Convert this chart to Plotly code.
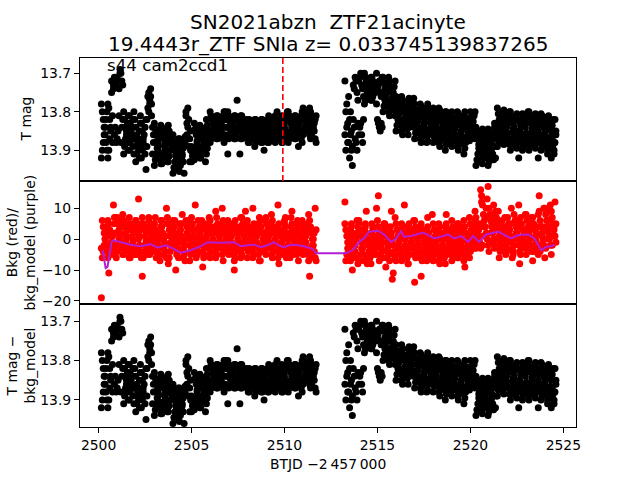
import plotly.graph_objects as go
from plotly.subplots import make_subplots

# ---------------- data ----------------
# two flux samples are listed per time stamp (series "a" and "b")
time_o1 = [
 2500.15,2500.20,2500.25,2500.30,2500.35,2500.40,2500.45,2500.50,2500.55,2500.60,2500.65,2500.70,2500.75,2500.80,2500.85,2500.90,2500.95,
 2501.00,2501.05,2501.10,2501.15,2501.20,2501.25,2501.30,2501.35,2501.40,2501.45,2501.50,2501.55,2501.60,2501.65,2501.70,2501.75,2501.80,2501.85,2501.90,2501.95,
 2502.00,2502.05,2502.10,2502.15,2502.20,2502.25,2502.30,2502.35,2502.40,2502.45,2502.50,2502.55,2502.60,2502.65,2502.70,2502.75,2502.80,2502.85,2502.90,2502.95,
 2503.00,2503.05,2503.10,2503.15,2503.20,2503.25,2503.30,2503.35,2503.40,2503.45,2503.50,2503.55,2503.60,2503.65,2503.70,2503.75,2503.80,2503.85,2503.90,2503.95,
 2504.00,2504.05,2504.10,2504.15,2504.20,2504.25,2504.30,2504.35,2504.40,2504.45,2504.50,2504.55,2504.60,2504.65,2504.70,2504.75,2504.80,2504.85,2504.90,2504.95,
 2505.00,2505.05,2505.10,2505.15,2505.20,2505.25,2505.30,2505.35,2505.40,2505.45,2505.50,2505.55,2505.60,2505.65,2505.70,2505.75,2505.80,2505.85,2505.90,2505.95,
 2506.00,2506.05,2506.10,2506.15,2506.20,2506.25,2506.30,2506.35,2506.40,2506.45,2506.50,2506.55,2506.60,2506.65,2506.70,2506.75,2506.80,2506.85,2506.90,2506.95,
 2507.00,2507.05,2507.10,2507.15,2507.20,2507.25,2507.30,2507.35,2507.40,2507.45,2507.50,2507.55,2507.60,2507.65,2507.70,2507.75,2507.80,2507.85,2507.90,2507.95,
 2508.00,2508.05,2508.10,2508.15,2508.20,2508.25,2508.30,2508.35,2508.40,2508.45,2508.50,2508.55,2508.60,2508.65,2508.70,2508.75,2508.80,2508.85,2508.90,2508.95,
 2509.00,2509.05,2509.10,2509.15,2509.20,2509.25,2509.30,2509.35,2509.40,2509.45,2509.50,2509.55,2509.60,2509.65,2509.70,2509.75,2509.80,2509.85,2509.90,2509.95,
 2510.00,2510.05,2510.10,2510.15,2510.20,2510.25,2510.30,2510.35,2510.40,2510.45,2510.50,2510.55,2510.60,2510.65,2510.70,2510.75,2510.80,2510.85,2510.90,2510.95,
 2511.00,2511.05,2511.10,2511.15,2511.20,2511.25,2511.30,2511.35,2511.40,2511.45,2511.50,2511.55,2511.60,2511.65,2511.70,
]
mag_o1_a = [
 13.78,13.80,13.82,13.84,13.86,13.88,13.90,13.92,13.79,13.82,13.85,13.72,13.88,13.74,13.71,13.84,13.73,
 13.87,13.72,13.81,13.69,13.70,13.84,13.73,13.80,13.82,13.84,13.86,13.88,13.90,13.81,13.83,13.85,13.87,13.89,13.91,13.82,
 13.84,13.86,13.88,13.90,13.92,13.81,13.83,13.85,13.87,13.89,13.91,13.95,13.82,13.79,13.75,13.77,13.74,13.78,13.84,13.88,
 13.83,13.845,13.86,13.875,13.89,13.905,13.92,13.935,13.84,13.855,13.87,13.885,13.90,13.915,13.93,13.835,13.85,13.865,13.88,13.895,
 13.86,13.875,13.89,13.905,13.92,13.935,13.95,13.87,13.885,13.90,13.915,13.93,13.96,13.88,13.80,13.83,13.79,13.82,13.87,13.85,
 13.89,13.905,13.92,13.83,13.845,13.86,13.875,13.89,13.905,13.92,13.84,13.855,13.87,13.885,13.90,13.93,13.82,13.835,13.85,13.865,
 13.80,13.81,13.82,13.83,13.84,13.85,13.86,13.87,13.81,13.82,13.83,13.84,13.85,13.86,13.87,13.88,13.80,13.82,13.84,13.91,
 13.81,13.82,13.83,13.84,13.85,13.86,13.87,13.81,13.82,13.77,13.84,13.85,13.91,13.87,13.81,13.82,13.83,13.84,13.85,13.86,
 13.87,13.88,13.82,13.83,13.84,13.85,13.86,13.87,13.89,13.82,13.83,13.84,13.85,13.86,13.87,13.88,13.82,13.83,13.90,13.85,
 13.86,13.87,13.88,13.81,13.82,13.83,13.84,13.85,13.86,13.87,13.81,13.82,13.80,13.84,13.85,13.86,13.87,13.88,13.82,13.83,
 13.84,13.85,13.86,13.87,13.80,13.81,13.82,13.83,13.84,13.85,13.86,13.87,13.81,13.82,13.83,13.89,13.85,13.86,13.87,13.88,
 13.79,13.80,13.81,13.82,13.83,13.84,13.85,13.86,13.80,13.81,13.82,13.83,13.85,13.87,13.88,
]
mag_o1_b = [
 13.92,13.90,13.88,13.86,13.84,13.82,13.80,13.78,13.90,13.87,13.84,13.75,13.81,13.73,13.86,13.72,13.88,
 13.71,13.85,13.74,13.70,13.88,13.72,13.82,13.91,13.89,13.87,13.85,13.83,13.81,13.90,13.88,13.86,13.84,13.82,13.80,13.87,
 13.93,13.91,13.89,13.87,13.85,13.83,13.92,13.90,13.88,13.86,13.84,13.82,13.89,13.76,13.80,13.78,13.76,13.81,13.91,13.86,
 13.94,13.925,13.91,13.895,13.88,13.865,13.85,13.835,13.935,13.92,13.905,13.89,13.875,13.86,13.845,13.93,13.915,13.90,13.885,13.87,
 13.96,13.945,13.93,13.915,13.90,13.885,13.87,13.955,13.94,13.925,13.91,13.895,13.88,13.865,13.81,13.86,13.84,13.89,13.93,13.90,
 13.93,13.915,13.90,13.925,13.91,13.895,13.88,13.865,13.85,13.835,13.92,13.905,13.89,13.875,13.86,13.845,13.91,13.895,13.88,13.865,
 13.88,13.87,13.86,13.85,13.84,13.83,13.82,13.81,13.87,13.86,13.85,13.84,13.83,13.82,13.81,13.80,13.86,13.84,13.82,13.80,
 13.87,13.86,13.85,13.84,13.83,13.82,13.81,13.87,13.86,13.85,13.84,13.83,13.82,13.81,13.87,13.86,13.85,13.84,13.83,13.82,
 13.85,13.84,13.88,13.87,13.86,13.85,13.84,13.83,13.82,13.88,13.87,13.86,13.85,13.84,13.83,13.82,13.88,13.87,13.86,13.84,
 13.85,13.83,13.82,13.88,13.87,13.86,13.85,13.84,13.83,13.82,13.88,13.87,13.86,13.85,13.84,13.83,13.82,13.81,13.88,13.86,
 13.83,13.82,13.81,13.80,13.88,13.87,13.86,13.85,13.84,13.83,13.82,13.81,13.87,13.86,13.85,13.84,13.83,13.82,13.81,13.80,
 13.86,13.85,13.84,13.83,13.82,13.81,13.80,13.79,13.87,13.86,13.85,13.84,13.83,13.82,13.81,
]
bkg_o1_a = [
 -19,-6,-4,-2,0,2,4,6,-11,-5,-3,-1,1,11,5,7,-6,
 -4,-2,0,2,4,6,8,-5,-3,-1,1,3,5,7,-6,-4,-2,0,2,4,
 6,-5,-3,13,1,3,5,-12,-6,-4,-2,0,2,4,7,-5,-3,-1,1,3,
 5,7,-6,-4,-2,0,2,4,6,-5,-3,-1,1,10,5,-8,-6,-4,-2,0,
 2,4,6,-10,-5,-3,-1,1,3,5,8,-6,-4,-2,0,2,4,6,-7,-5,
 -3,-1,1,3,11,-6,-4,-2,0,2,4,6,-9,-5,-3,-1,1,3,5,7,
 -6,-4,-2,0,2,4,9,-5,-3,-1,1,3,5,10,-7,-4,-2,0,2,6,
 -5,-3,-1,1,3,5,-10,-6,-4,-2,0,2,4,7,-5,-3,-1,1,9,5,
 -6,-4,-2,0,2,4,10,-5,-3,-1,1,3,5,7,-7,-4,-2,0,2,6,
 -5,-3,-1,1,3,5,8,-6,-4,-2,0,2,4,11,-8,-5,-3,-1,1,3,
 5,7,-6,-4,-2,0,2,4,9,-5,-3,-1,1,3,5,-7,-4,-2,0,6,
 -5,-3,-1,1,3,5,8,-12,-6,-4,-2,0,2,10,-7,
]
bkg_o1_b = [
 -3,6,4,2,0,-2,-4,-6,5,3,1,-1,-3,-5,7,2,-2,
 7,5,3,1,-1,-3,-5,6,4,2,0,-2,-4,-6,5,3,1,-1,-3,-5,
 6,4,2,0,-2,-4,-6,7,5,3,1,-1,-3,-5,6,4,2,0,-2,-4,
 5,3,1,-1,-3,-5,-7,6,4,2,0,-2,-4,-6,7,5,3,1,-1,-3,
 6,4,2,0,-2,-4,-6,5,3,1,-1,-3,-5,-7,6,4,2,0,-2,-4,
 7,5,3,1,-1,-3,-5,6,4,2,0,-2,-4,-6,5,3,1,-1,-3,-5,
 6,4,2,0,-2,-4,-6,7,5,3,1,-1,-3,-5,6,4,2,0,-2,-4,
 5,3,1,-1,-3,-5,-7,6,4,2,0,-2,-4,-6,7,5,3,1,-1,-3,
 6,4,2,0,-2,-4,-6,5,3,1,-1,-3,-5,-7,6,4,2,0,-2,-4,
 7,5,3,1,-1,-3,-5,6,4,2,0,-2,-4,-6,5,3,1,-1,-3,-5,
 6,4,2,0,-2,-4,-6,7,5,3,1,-1,-3,-5,6,4,2,0,-2,-4,
 5,3,1,-1,-3,-5,-7,6,4,2,0,-2,-4,-6,3,
]

time_o2 = [
 2513.25,2513.30,2513.35,2513.40,2513.45,2513.50,2513.55,2513.60,2513.65,2513.70,2513.75,2513.80,2513.85,2513.90,2513.95,
 2514.00,2514.05,2514.10,2514.15,2514.20,2514.25,2514.30,2514.35,2514.40,2514.45,2514.50,2514.55,2514.60,2514.65,2514.70,2514.75,2514.80,2514.85,2514.90,2514.95,
 2515.00,2515.05,2515.10,2515.15,2515.20,2515.25,2515.30,2515.35,2515.40,2515.45,2515.50,2515.55,2515.60,2515.65,2515.70,2515.75,2515.80,2515.85,2515.90,2515.95,
 2516.00,2516.05,2516.10,2516.15,2516.20,2516.25,2516.30,2516.35,2516.40,2516.45,2516.50,2516.55,2516.60,2516.65,2516.70,2516.75,2516.80,2516.85,2516.90,2516.95,
 2517.00,2517.05,2517.10,2517.15,2517.20,2517.25,2517.30,2517.35,2517.40,2517.45,2517.50,2517.55,2517.60,2517.65,2517.70,2517.75,2517.80,2517.85,2517.90,2517.95,
 2518.00,2518.05,2518.10,2518.15,2518.20,2518.25,2518.30,2518.35,2518.40,2518.45,2518.50,2518.55,2518.60,2518.65,2518.70,2518.75,2518.80,2518.85,2518.90,2518.95,
 2519.00,2519.05,2519.10,2519.15,2519.20,2519.25,2519.30,2519.35,2519.40,2519.45,2519.50,2519.55,2519.60,2519.65,2519.70,2519.75,2519.80,2519.85,2519.90,2519.95,
 2520.00,2520.05,2520.10,2520.15,2520.20,2520.25,2520.30,2520.35,2520.40,2520.45,2520.50,2520.55,2520.60,2520.65,2520.70,2520.75,2520.80,2520.85,2520.90,2520.95,
 2521.00,2521.05,2521.10,2521.15,2521.20,2521.25,2521.30,2521.35,2521.40,2521.45,2521.50,2521.55,2521.60,2521.65,2521.70,2521.75,2521.80,2521.85,2521.90,2521.95,
 2522.00,2522.05,2522.10,2522.15,2522.20,2522.25,2522.30,2522.35,2522.40,2522.45,2522.50,2522.55,2522.60,2522.65,2522.70,2522.75,2522.80,2522.85,2522.90,2522.95,
 2523.00,2523.05,2523.10,2523.15,2523.20,2523.25,2523.30,2523.35,2523.40,2523.45,2523.50,2523.55,2523.60,2523.65,2523.70,2523.75,2523.80,2523.85,2523.90,2523.95,
 2524.00,2524.05,2524.10,2524.15,2524.20,2524.25,2524.30,2524.35,2524.40,2524.45,2524.50,2524.55,2524.60,
]
mag_o2_a = [
 13.72,13.80,13.84,13.88,13.76,13.82,13.86,13.90,13.94,13.73,13.84,13.71,13.88,13.75,13.83,
 13.72,13.84,13.70,13.86,13.74,13.82,13.70,13.71,13.72,13.73,13.74,13.75,13.76,13.77,13.71,13.72,13.73,13.74,13.75,13.78,
 13.74,13.83,13.72,13.85,13.76,13.84,13.71,13.725,13.74,13.755,13.77,13.785,13.80,13.72,13.735,13.75,13.765,13.78,13.795,13.81,
 13.76,13.775,13.79,13.805,13.82,13.835,13.85,13.77,13.785,13.80,13.815,13.83,13.845,13.86,13.765,13.78,13.795,13.81,13.825,13.84,
 13.78,13.795,13.81,13.825,13.84,13.855,13.87,13.785,13.80,13.815,13.83,13.845,13.86,13.88,13.78,13.795,13.81,13.825,13.84,13.855,
 13.79,13.805,13.82,13.835,13.85,13.865,13.88,13.795,13.81,13.825,13.84,13.855,13.87,13.90,13.80,13.815,13.83,13.845,13.86,13.875,
 13.80,13.815,13.83,13.845,13.86,13.875,13.89,13.805,13.82,13.835,13.85,13.865,13.88,13.91,13.80,13.815,13.83,13.845,13.86,13.875,
 13.80,13.815,13.83,13.845,13.86,13.87,13.84,13.855,13.87,13.885,13.90,13.915,13.93,13.845,13.86,13.875,13.89,13.905,13.92,13.94,
 13.85,13.865,13.88,13.895,13.91,13.925,13.83,13.845,13.86,13.79,13.805,13.82,13.835,13.85,13.865,13.88,13.795,13.81,13.825,13.84,
 13.855,13.87,13.885,13.80,13.815,13.83,13.845,13.86,13.875,13.89,13.805,13.82,13.92,13.85,13.865,13.88,13.90,13.81,13.825,13.84,
 13.855,13.87,13.885,13.80,13.815,13.83,13.845,13.86,13.875,13.89,13.805,13.82,13.835,13.92,13.865,13.88,13.90,13.81,13.825,13.84,
 13.855,13.87,13.885,13.90,13.81,13.825,13.84,13.92,13.87,13.885,13.91,13.82,13.85,
]
mag_o2_b = [
 13.86,13.90,13.78,13.83,13.88,13.92,13.80,13.85,13.89,13.82,13.74,13.87,13.72,13.90,13.77,
 13.86,13.71,13.83,13.73,13.88,13.76,13.78,13.77,13.76,13.75,13.74,13.73,13.72,13.71,13.77,13.76,13.75,13.74,13.73,13.70,
 13.82,13.73,13.84,13.75,13.83,13.71,13.80,13.785,13.77,13.755,13.74,13.725,13.71,13.81,13.795,13.78,13.765,13.75,13.735,13.72,
 13.85,13.835,13.82,13.805,13.79,13.775,13.76,13.86,13.845,13.83,13.815,13.80,13.785,13.77,13.84,13.825,13.81,13.795,13.78,13.765,
 13.87,13.855,13.84,13.825,13.81,13.795,13.78,13.88,13.865,13.85,13.835,13.82,13.805,13.79,13.875,13.86,13.845,13.83,13.815,13.80,
 13.88,13.865,13.85,13.835,13.82,13.805,13.79,13.89,13.875,13.86,13.845,13.83,13.815,13.80,13.885,13.87,13.855,13.84,13.825,13.81,
 13.89,13.875,13.86,13.845,13.83,13.815,13.80,13.90,13.885,13.87,13.855,13.84,13.825,13.81,13.895,13.88,13.865,13.85,13.835,13.82,
 13.87,13.855,13.84,13.825,13.81,13.80,13.94,13.925,13.91,13.895,13.88,13.865,13.85,13.935,13.92,13.905,13.89,13.875,13.86,13.845,
 13.93,13.915,13.90,13.885,13.87,13.855,13.84,13.92,13.89,13.89,13.875,13.86,13.845,13.83,13.815,13.80,13.885,13.87,13.855,13.84,
 13.825,13.81,13.80,13.90,13.885,13.87,13.855,13.84,13.825,13.81,13.895,13.88,13.865,13.85,13.835,13.82,13.805,13.89,13.875,13.86,
 13.825,13.81,13.80,13.90,13.885,13.87,13.855,13.84,13.825,13.81,13.895,13.88,13.865,13.85,13.835,13.82,13.805,13.89,13.875,13.86,
 13.845,13.83,13.815,13.91,13.895,13.88,13.865,13.85,13.835,13.82,13.90,13.88,13.86,
]
bkg_o2_a = [
 12,-7,-5,-3,-1,1,3,5,-10,-6,-4,-2,0,2,4,
 6,-7,-5,-3,-1,1,3,5,9,-8,-6,-4,-2,0,2,4,-5,-3,-1,10,
 1,14,-7,-5,-3,-1,1,3,5,-9,-6,-4,-2,0,2,9,-13,-11,-5,7,
 -7,-5,-3,-1,1,3,5,-6,-4,11,0,2,4,-8,-5,-3,-1,1,3,6,
 -14,-6,-4,-2,0,2,4,-12,-7,-5,-3,-1,1,3,7,-6,-4,-2,0,8,
 -7,-5,-3,-1,1,3,5,-8,-6,-4,-2,0,2,4,8,-5,-3,-1,1,3,
 -7,-5,-3,-1,1,3,5,-6,-4,-2,0,2,4,6,-9,-5,-3,-1,1,7,
 -4,-2,0,2,4,6,-3,-1,1,3,5,16,12,-2,1,4,7,10,13,17,
 -4,-1,2,5,8,11,-3,0,3,6,9,-6,-4,-2,0,2,4,7,-5,-3,
 -1,1,3,5,10,-6,-4,-2,0,2,4,6,11,-8,-5,-3,-1,1,3,8,
 -5,-3,-1,1,3,5,7,-7,-4,-2,0,2,4,8,14,-4,-2,1,4,10,
 -6,-3,0,3,6,9,11,-5,-2,1,4,12,5,
]
bkg_o2_b = [
 5,3,1,-1,-3,-5,-7,4,2,0,-2,-4,-6,6,-8,
 5,3,1,-1,-3,-5,-7,4,2,0,-2,-4,-6,-8,5,3,1,-1,-3,-5,
 6,4,2,0,-2,-4,-6,5,3,1,-1,-3,-5,-7,4,2,0,-2,-4,-6,
 5,3,1,-1,-3,-5,-7,4,2,0,-2,-4,-6,-8,5,3,1,-1,-3,-5,
 6,4,2,0,-2,-4,-6,5,3,1,-1,-3,-5,-7,4,2,0,-2,-4,-6,
 5,3,1,-1,-3,-5,-7,4,2,0,-2,-4,-6,-8,5,3,1,-1,-3,-5,
 6,4,2,0,-2,-4,-6,5,3,1,-1,-3,-5,-7,4,2,0,-2,-4,-6,
 5,3,1,-1,-3,9,7,5,3,1,-1,-3,14,11,8,6,4,2,0,-2,
 10,8,6,4,2,0,-2,9,7,5,3,1,-1,-3,6,4,2,0,-2,-4,
 7,5,3,1,-1,-3,-5,8,6,4,2,0,-2,-4,7,5,3,1,-1,-3,
 8,6,4,2,0,-2,-4,7,5,3,1,-1,-3,-5,9,6,4,2,0,-2,
 10,8,6,4,2,0,-2,9,7,5,3,1,-1,
]

model_t = [2500.22,2500.38,2500.48,2500.70,2500.81,2501.19,2501.72,2502.26,2502.80,2503.18,
           2503.61,2503.99,2504.42,2504.96,2505.50,2505.87,2506.20,2506.57,2507.27,2507.65,
           2508.03,2508.35,2508.73,2509.11,2509.43,2509.70,2509.97,2510.24,2510.51,2511.05,
           2511.42,2511.53,2511.69,2513.31,2513.69,2514.01,2514.28,2514.55,2515.03,2515.36,
           2515.73,2516.00,2516.27,2516.43,2516.81,2517.19,2517.46,2517.73,2518.05,2518.43,
           2518.80,2519.13,2519.50,2519.88,2520.15,2520.47,2520.85,2521.50,2521.82,2522.20,
           2522.58,2523.11,2523.44,2523.81,2524.08,2524.35,2524.52]
model_v = [-3.6,-9.4,-9.0,-0.9,-0.4,-1.0,-1.8,-2.3,-1.6,-2.8,
           -2.0,-3.0,-4.4,-3.6,-2.3,-1.0,-1.1,-1.2,-1.0,-2.3,
           -2.0,-1.8,-2.6,-1.9,-1.0,-2.0,-2.7,-2.0,-1.8,-2.3,
           -3.0,-3.3,-4.6,-4.6,-3.5,-0.9,0.3,2.4,2.7,1.5,
           -0.9,0.2,2.6,0.8,1.0,1.5,2.1,1.3,0.2,0.8,
           1.5,0.2,1.0,-0.9,1.0,-0.9,1.5,2.4,1.3,0.2,
           1.3,1.5,0.2,-3.6,-2.5,-2.3,-1.8]

marker_time = 2509.91
x_ticks = [2500, 2505, 2510, 2515, 2520, 2525]
mag_ticks = [13.7, 13.8, 13.9]
mag_tick_text = ["13.7", "13.8", "13.9"]
bkg_ticks = [-20, -10, 0, 10]
bkg_tick_text = ["\u221220", "\u221210", "0", "10"]

title_1 = "SN2021abzn \u00a0ZTF21acinyte"
title_2 = "19.4443r_ZTF SNIa z= 0.033745139837265"
label_sector = "s44 cam2ccd1"

# ------------------------------------------------------------------------
def pair(t, v):
    n = min(len(t), len(v))
    return list(t[:n]), list(v[:n])

tm, mg, tb, bg = [], [], [], []
for t, v in ((time_o1, mag_o1_b), (time_o2, mag_o2_b), (time_o1, mag_o1_a), (time_o2, mag_o2_a)):
    a, b = pair(t, v); tm += a; mg += b
for t, v in ((time_o1, bkg_o1_b), (time_o2, bkg_o2_b), (time_o1, bkg_o1_a), (time_o2, bkg_o2_a)):
    a, b = pair(t, v); tb += a; bg += b

FONT = "DejaVu Sans"
MS = 7
fig = make_subplots(rows=3, cols=1, shared_xaxes=True, vertical_spacing=0)

fig.add_trace(go.Scatter(x=tm, y=mg, mode="markers",
                         marker=dict(color="black", size=MS, line=dict(width=0))), row=1, col=1)
fig.add_trace(go.Scatter(x=tb, y=bg, mode="markers",
                         marker=dict(color="red", size=MS, line=dict(width=0))), row=2, col=1)
fig.add_trace(go.Scatter(x=model_t, y=model_v, mode="lines",
                         line=dict(color="#b41ed2", width=2)), row=2, col=1)
fig.add_trace(go.Scatter(x=tm, y=mg, mode="markers",
                         marker=dict(color="black", size=MS, line=dict(width=0))), row=3, col=1)

fig.add_shape(type="line", xref="x", yref="y domain", x0=marker_time, x1=marker_time,
              y0=0, y1=1, line=dict(color="red", width=1.6, dash="6px,3px"))

axis_common = dict(showline=True, mirror=True, linecolor="black", linewidth=1,
                   showgrid=False, zeroline=False, automargin=False)
for r in (1, 2, 3):
    fig.update_xaxes(row=r, col=1, range=[2499.0, 2525.68], **axis_common)
fig.update_xaxes(row=1, col=1, showticklabels=False, ticks="")
fig.update_xaxes(row=2, col=1, showticklabels=False, ticks="")
fig.update_xaxes(row=3, col=1, ticks="outside", ticklen=5, tickwidth=1, tickcolor="black",
                 tickvals=x_ticks, ticktext=[str(v) for v in x_ticks],
                 tickfont=dict(family=FONT, size=13.9, color="black"))

ycommon = dict(ticks="outside", ticklen=5, tickwidth=1, tickcolor="black",
               tickfont=dict(family=FONT, size=13.9, color="black"), **axis_common)
fig.update_yaxes(row=1, col=1, range=[13.98, 13.66], tickvals=mag_ticks, ticktext=mag_tick_text, **ycommon)
fig.update_yaxes(row=2, col=1, range=[-21.0, 18.8], tickvals=bkg_ticks, ticktext=bkg_tick_text, **ycommon)
fig.update_yaxes(row=3, col=1, range=[13.969, 13.656], tickvals=mag_ticks, ticktext=mag_tick_text, **ycommon)

L, R, T, B = 80, 64, 57.6, 52.8
PW, PH = 640 - L - R, 480 - T - B
def px(x):
    return (x - L) / PW
def py(y):
    return (480 - B - y) / PH

ann = []
ann.append(dict(text=title_1, x=0.5, y=py(21.5), xref="paper", yref="paper", showarrow=False,
                xanchor="center", yanchor="middle", font=dict(family=FONT, size=20, color="black")))
ann.append(dict(text=title_2, x=0.5, y=py(43.5), xref="paper", yref="paper", showarrow=False,
                xanchor="center", yanchor="middle", font=dict(family=FONT, size=20, color="black")))
ann.append(dict(text=label_sector, x=px(104.5), y=py(64.7), xref="paper", yref="paper", showarrow=False,
                xanchor="left", yanchor="middle", font=dict(family=FONT, size=16.7, color="black")))
ann.append(dict(text="T mag", x=px(26), y=py(119.2), xref="paper", yref="paper", showarrow=False,
                textangle=-90, xanchor="center", yanchor="middle", font=dict(family=FONT, size=13.9, color="black")))
ann.append(dict(text="Bkg (red)/<br>bkg_model (purple)", x=px(20), y=py(242.4), xref="paper", yref="paper",
                showarrow=False, textangle=-90, xanchor="center", yanchor="middle",
                font=dict(family=FONT, size=13.9, color="black")))
ann.append(dict(text="T mag \u2212<br>bkg_model", x=px(20), y=py(365.6), xref="paper", yref="paper",
                showarrow=False, textangle=-90, xanchor="center", yanchor="middle",
                font=dict(family=FONT, size=13.9, color="black")))
ann.append(dict(text="BTJD \u22122\u2009457\u2009000", x=0.5, y=py(464), xref="paper", yref="paper",
                showarrow=False, xanchor="center", yanchor="middle",
                font=dict(family=FONT, size=13.9, color="black")))

fig.update_layout(template="none", width=640, height=480,
                  margin=dict(l=L, r=R, t=T, b=B, pad=0),
                  paper_bgcolor="white", plot_bgcolor="white", showlegend=False,
                  font=dict(family=FONT, color="black", size=13.9),
                  annotations=ann)

fig.write_html("out.html", config={"displayModeBar": False},
               post_script="document.body.style.margin='0';document.body.style.overflow='hidden';")
